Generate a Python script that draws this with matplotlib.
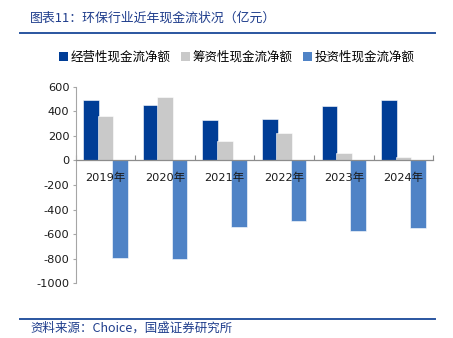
import matplotlib
matplotlib.use("Agg")
import matplotlib.pyplot as plt
import numpy as np
from matplotlib.patches import Patch
from matplotlib.lines import Line2D

plt.rcParams['font.family'] = ['DejaVu Sans', 'Noto Sans CJK SC']
plt.rcParams['axes.unicode_minus'] = False

categories = ["2019年", "2020年", "2021年", "2022年", "2023年", "2024年"]
operating = [490, 455, 325, 340, 445, 495]
financing = [365, 518, 155, 225, 62, 24]
investing = [-792, -802, -542, -494, -578, -548]
series_names = ["经营性现金流净额", "筹资性现金流净额", "投资性现金流净额"]
colors = ["#003D96", "#C9C9C9", "#4F83C6"]
yticks = [600, 400, 200, 0, -200, -400, -600, -800, -1000]

fig = plt.figure(figsize=(4.53, 3.38), dpi=100)
ax = fig.add_axes([0.1671, 0.1618, 0.7894, 0.5817])

x = np.arange(len(categories))
off = 0.24
w = 0.265
for i, (vals, c) in enumerate(zip([operating, financing, investing], colors)):
    ax.bar(x + (i - 1) * off, vals, width=w, color=c, edgecolor='white',
           linewidth=0.4, zorder=1)

ax.set_xlim(-0.5, len(categories) - 0.5)
ax.set_ylim(-1000, 600)
ax.set_yticks(yticks)
ax.set_yticklabels([str(v) for v in yticks])

for s in ['top', 'right']:
    ax.spines[s].set_visible(False)
ax.spines['bottom'].set_position(('data', 0))
ax.spines['bottom'].set_color('#8C8C8C')
ax.spines['left'].set_color('#A6A6A6')
ax.spines['bottom'].set_linewidth(0.9)
ax.spines['left'].set_linewidth(0.8)

ax.set_xticks(x)
ax.set_xticklabels(categories, fontsize=8.2, color='#1a1a1a',
                   family=['DejaVu Sans', 'Noto Sans CJK SC'])
ax.tick_params(axis='x', which='major', length=0, pad=9)
ax.set_xticks(np.arange(-0.5, len(categories)), minor=True)
ax.tick_params(axis='x', which='minor', direction='in', length=3.5,
               color='#8C8C8C', width=0.8)
ax.tick_params(axis='y', direction='out', length=2.5, color='#A6A6A6',
               width=0.8, labelsize=8.2, labelcolor='#1a1a1a', pad=2)

handles = [Patch(facecolor=c, edgecolor='none') for c in colors]
fig.legend(handles, series_names, loc='center', bbox_to_anchor=(0.523, 0.831),
           ncol=3, frameon=False, handlelength=0.7, handleheight=0.7,
           handletextpad=0.25, columnspacing=0.8,
           prop={'family': ['Noto Sans CJK SC'], 'size': 9})

title_color = "#1F3D8C"
fig.text(30 / 453, 1 - 18 / 338, "图表11：环保行业近年现金流状况（亿元）",
         fontsize=9.3, color=title_color, style='italic', va='center', ha='left',
         family=['Noto Sans CJK SC', 'DejaVu Sans'])
fig.add_artist(Line2D([20 / 453, 435 / 453], [1 - 33 / 338, 1 - 33 / 338],
                      color='#2A55A0', linewidth=1.4))
fig.add_artist(Line2D([20 / 453, 435 / 453], [1 - 318.5 / 338, 1 - 318.5 / 338],
                      color='#2A55A0', linewidth=1.4))
fig.text(30 / 453, 1 - 328.5 / 338, "资料来源：Choice，国盛证券研究所",
         fontsize=9, color=title_color, style='italic', va='center', ha='left',
         family=['Noto Sans CJK SC', 'DejaVu Sans'])

fig.savefig("out.png", dpi=100)
